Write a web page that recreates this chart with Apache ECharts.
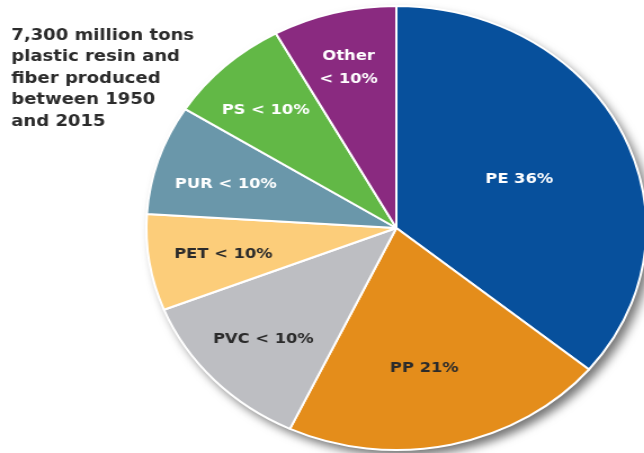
<!DOCTYPE html>
<html>
<head>
<meta charset="utf-8">
<script src="https://cdn.jsdelivr.net/npm/echarts@6.0.0/dist/echarts.min.js"></script>
<style>
  html, body { margin: 0; padding: 0; background: #fff; overflow: hidden; }
  /* the original pie is an ellipse, so the chart is stretched sideways */
  #chart { width: 572px; height: 453px; transform: scaleX(1.126); transform-origin: 0 0; }
</style>
</head>
<body>
<div id="chart"></div>
<script>
const names = ['PE', 'PP', 'PVC', 'PET', 'PUR', 'PS', 'Other']
const values = [36, 21, 12, 7, 8, 8, 8]
const shareText = ['36%', '21%', '< 10%', '< 10%', '< 10%', '< 10%', '< 10%']
const colors = ['#07509c', '#e48d1b', '#bdbec2', '#fccd7a', '#6a97aa', '#62b846', '#8a2a80']
const labelColors = ['#fff', '#2b2b2b', '#2b2b2b', '#2b2b2b', '#fff', '#fff', '#fff']
// nudges from the default inside spot, to sit where the original has them
const labelShift = [[6, 0], [0, 29], [-35, 33], [-41, 8], [-43, -9], [-38, -35], [-14, -50]]

const total = values.reduce((a, b) => a + b, 0)
const center = [352, 228]
const radius = 222

const myChart = echarts.init(document.getElementById('chart'))

const option = {
  animation: false,
  title: {
    text: '7,300 million tons\nplastic resin and\nfiber produced\nbetween 1950\nand 2015',
    left: 10,
    top: 25,
    padding: 0,
    textStyle: {
      fontFamily: 'DejaVu Sans',
      fontSize: 16,
      fontWeight: 'bold',
      lineHeight: 21.5,
      color: '#2b2b2b'
    }
  },
  series: [
    {
      // just the drop shadow under the whole pie
      type: 'pie',
      silent: true,
      center: center,
      radius: radius,
      label: { show: false },
      labelLine: { show: false },
      itemStyle: {
        color: '#fff',
        shadowBlur: 10,
        shadowOffsetX: 5,
        shadowOffsetY: 6,
        shadowColor: 'rgba(0,0,0,0.55)'
      },
      data: [{ value: total }]
    },
    {
      type: 'pie',
      center: center,
      radius: radius,
      startAngle: 90,
      avoidLabelOverlap: false,
      itemStyle: { borderColor: '#fff', borderWidth: 2 },
      label: {
        show: true,
        position: 'inside',
        align: 'center',
        fontFamily: 'DejaVu Sans',
        fontSize: 14.5,
        fontWeight: 'bold',
        lineHeight: 23,
        formatter: p => names[p.dataIndex] === 'Other'
          ? p.name + '\n' + shareText[p.dataIndex]
          : p.name + ' ' + shareText[p.dataIndex]
      },
      labelLayout: p => ({ dx: labelShift[p.dataIndex][0], dy: labelShift[p.dataIndex][1] }),
      data: names.map((n, i) => ({
        name: n,
        value: values[i],
        itemStyle: { color: colors[i] },
        label: { color: labelColors[i] }
      }))
    }
  ]
}

myChart.setOption(option)
</script>
</body>
</html>
